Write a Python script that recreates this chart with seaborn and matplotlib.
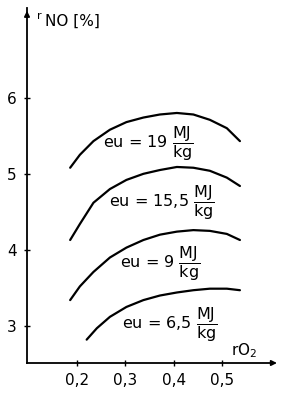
import matplotlib
matplotlib.use("Agg")
import matplotlib.pyplot as plt
import seaborn as sns
import pandas as pd

sns.set_theme(style="white")
plt.rcParams['font.family'] = ['DejaVu Sans']
plt.rcParams['mathtext.fontset'] = 'dejavusans'
plt.rcParams['text.color'] = 'black'
plt.rcParams['xtick.color'] = 'black'
plt.rcParams['ytick.color'] = 'black'

# data
x_upper = [0.186, 0.206, 0.234, 0.268, 0.302, 0.337, 0.371, 0.406, 0.440, 0.474, 0.509, 0.536]
x_lower = [0.220, 0.241, 0.268, 0.302, 0.337, 0.371, 0.406, 0.440, 0.474, 0.509, 0.536]
y_eu19 = [5.08, 5.25, 5.43, 5.58, 5.68, 5.74, 5.78, 5.80, 5.78, 5.71, 5.60, 5.43]
y_eu155 = [4.13, 4.34, 4.62, 4.80, 4.92, 5.00, 5.05, 5.09, 5.08, 5.04, 4.95, 4.84]
y_eu9 = [3.34, 3.52, 3.71, 3.90, 4.03, 4.13, 4.20, 4.24, 4.26, 4.25, 4.21, 4.13]
y_eu65 = [2.82, 2.97, 3.12, 3.25, 3.34, 3.40, 3.44, 3.47, 3.49, 3.49, 3.47]
series_names = ["19", "15,5", "9", "6,5"]
x_ticks = [0.2, 0.3, 0.4, 0.5]
x_ticklabels = ["0,2", "0,3", "0,4", "0,5"]
y_ticks = [3, 4, 5, 6]
y_ticklabels = ["3", "4", "5", "6"]

frames = []
for name, xs, ys in zip(series_names,
                        [x_upper, x_upper, x_upper, x_lower],
                        [y_eu19, y_eu155, y_eu9, y_eu65]):
    frames.append(pd.DataFrame({"rO2": xs, "rNO": ys, "eu": name}))
df = pd.concat(frames, ignore_index=True)

fig = plt.figure(figsize=(2.81, 3.93), dpi=100)
ax = fig.add_axes([27/281, 30/393, 243/281, 355/393])

sns.lineplot(data=df, x="rO2", y="rNO", units="eu", estimator=None,
             color="black", linewidth=1.6, ax=ax, sort=False)

ax.set_xlim(0.097, 0.598)
ax.set_ylim(2.513, 7.18)
ax.set_xticks(x_ticks)
ax.set_xticklabels(x_ticklabels, fontsize=11)
ax.set_yticks(y_ticks)
ax.set_yticklabels(y_ticklabels, fontsize=11)
ax.tick_params(axis='both', direction='inout', length=5, width=1.0,
               colors='black', pad=5, left=True, bottom=True)
ax.set_xlabel("")
ax.set_ylabel("")
for s in ["top", "right"]:
    ax.spines[s].set_visible(False)
for s in ["left", "bottom"]:
    ax.spines[s].set_color("black")
    ax.spines[s].set_linewidth(1.3)

# arrow heads
ax.annotate('', xy=(0, 1.0), xycoords='axes fraction', xytext=(0, 0.97),
            arrowprops=dict(arrowstyle='-|>', color='black', lw=1.2, mutation_scale=8))
ax.annotate('', xy=(1.04, 0), xycoords='axes fraction', xytext=(1.0, 0),
            arrowprops=dict(arrowstyle='-|>', color='black', lw=1.2, mutation_scale=8),
            annotation_clip=False)

# axis labels
ax.text(0.118, 7.08, "r", fontsize=8, ha='left', va='center')
ax.text(0.135, 7.0, "NO [%]", fontsize=11, ha='left', va='center')
ax.text(0.545, 2.67, r"rO$_2$", fontsize=11, ha='center', va='center')

# curve labels
labels = [(0.346, 5.40, "19"), (0.375, 4.62, "15,5"),
          (0.371, 3.82, "9"), (0.392, 3.02, "6,5")]
for x, y, v in labels:
    ax.text(x, y, "eu = " + v + r" $\dfrac{\mathrm{MJ}}{\mathrm{kg}}$",
            fontsize=11.5, ha='center', va='center')

fig.savefig("out.png", dpi=100, facecolor="white")
